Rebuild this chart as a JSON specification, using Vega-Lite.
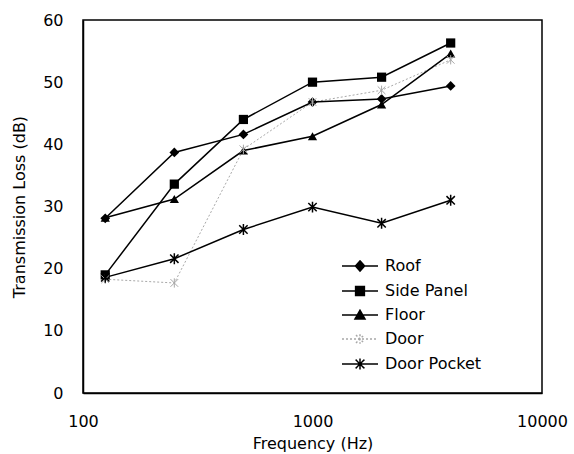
{
  "$schema": "https://vega.github.io/schema/vega-lite/v6.json",
  "width": 459,
  "height": 373,
  "autosize": {"type": "none"},
  "padding": {"left": 83, "top": 20, "right": 32, "bottom": 61},
  "background": "white",
  "config": {
    "font": "DejaVu Sans",
    "view": {"stroke": "black", "strokeWidth": 1.5},
    "axis": {
      "ticks": false,
      "grid": false,
      "domainColor": "black",
      "domainWidth": 1.5,
      "labelColor": "black",
      "titleColor": "black",
      "labelFontSize": 16,
      "titleFontSize": 16,
      "titleFontWeight": "normal",
      "labelFont": "DejaVu Sans",
      "titleFont": "DejaVu Sans"
    },
    "legend": {
      "orient": "none",
      "padding": 0,
      "labelFontSize": 16,
      "labelFont": "DejaVu Sans",
      "labelColor": "black",
      "symbolSize": 64,
      "symbolStrokeWidth": 1.5
    }
  },
  "data": {
    "values": [
      {"series": "Roof", "freq": 125, "TL": 28.1},
      {"series": "Roof", "freq": 250, "TL": 38.7},
      {"series": "Roof", "freq": 500, "TL": 41.6},
      {"series": "Roof", "freq": 1000, "TL": 46.8},
      {"series": "Roof", "freq": 2000, "TL": 47.3},
      {"series": "Roof", "freq": 4000, "TL": 49.4},
      {"series": "Side Panel", "freq": 125, "TL": 19.0},
      {"series": "Side Panel", "freq": 250, "TL": 33.6},
      {"series": "Side Panel", "freq": 500, "TL": 44.0},
      {"series": "Side Panel", "freq": 1000, "TL": 50.0},
      {"series": "Side Panel", "freq": 2000, "TL": 50.8},
      {"series": "Side Panel", "freq": 4000, "TL": 56.3},
      {"series": "Floor", "freq": 125, "TL": 28.2},
      {"series": "Floor", "freq": 250, "TL": 31.2},
      {"series": "Floor", "freq": 500, "TL": 39.0},
      {"series": "Floor", "freq": 1000, "TL": 41.3},
      {"series": "Floor", "freq": 2000, "TL": 46.4},
      {"series": "Floor", "freq": 4000, "TL": 54.6},
      {"series": "Door", "freq": 125, "TL": 18.3},
      {"series": "Door", "freq": 250, "TL": 17.7},
      {"series": "Door", "freq": 500, "TL": 39.2},
      {"series": "Door", "freq": 1000, "TL": 46.8},
      {"series": "Door", "freq": 2000, "TL": 48.7},
      {"series": "Door", "freq": 4000, "TL": 53.6},
      {"series": "Door Pocket", "freq": 125, "TL": 18.6},
      {"series": "Door Pocket", "freq": 250, "TL": 21.6},
      {"series": "Door Pocket", "freq": 500, "TL": 26.3},
      {"series": "Door Pocket", "freq": 1000, "TL": 29.9},
      {"series": "Door Pocket", "freq": 2000, "TL": 27.3},
      {"series": "Door Pocket", "freq": 4000, "TL": 31.0}
    ]
  },
  "encoding": {
    "x": {
      "field": "freq",
      "type": "quantitative",
      "scale": {"type": "log", "domain": [100, 10000], "nice": false},
      "axis": {
        "values": [100, 1000, 10000],
        "format": "d",
        "labelPadding": 20,
        "labelFlush": false,
        "labelOverlap": false,
        "title": "Frequency (Hz)",
        "titlePadding": 6
      }
    },
    "y": {
      "field": "TL",
      "type": "quantitative",
      "scale": {"domain": [0, 60], "nice": false, "zero": true},
      "axis": {
        "values": [0, 10, 20, 30, 40, 50, 60],
        "labelPadding": 20,
        "title": "Transmission Loss (dB)",
        "titlePadding": 15
      }
    }
  },
  "layer": [
    {
      "transform": [{"filter": "datum.series === 'Door'"}],
      "mark": {"type": "line", "color": "#a8a8a8", "strokeWidth": 1, "strokeDash": [2, 2]},
      "encoding": {}
    },
    {
      "transform": [{"filter": "datum.series !== 'Door'"}],
      "mark": {"type": "line", "color": "black", "strokeWidth": 1.5},
      "encoding": {"detail": {"field": "series", "type": "nominal"}}
    },
    {
      "transform": [{"filter": "datum.series === 'Roof'"}],
      "mark": {"type": "point", "shape": "diamond", "filled": true, "color": "black", "size": 95, "opacity": 1}
    },
    {
      "transform": [{"filter": "datum.series === 'Side Panel'"}],
      "mark": {"type": "point", "shape": "square", "filled": true, "color": "black", "size": 85, "opacity": 1}
    },
    {
      "transform": [{"filter": "datum.series === 'Floor'"}],
      "mark": {"type": "point", "shape": "triangle-up", "filled": true, "color": "black", "size": 85, "opacity": 1}
    },
    {
      "transform": [{"filter": "datum.series === 'Door'"}],
      "mark": {"type": "point", "shape": "M-1,-1L1,1M-1,1L1,-1M0,-1.2L0,1.2", "filled": false, "color": "#a8a8a8", "strokeWidth": 1, "size": 60, "opacity": 1}
    },
    {
      "transform": [{"filter": "datum.series === 'Door Pocket'"}],
      "mark": {"type": "point", "shape": "M-1,-1L1,1M-1,1L1,-1M0,-1.3L0,1.3", "filled": false, "color": "black", "strokeWidth": 1.5, "size": 70, "opacity": 1}
    },
    {
      "transform": [{"filter": "datum.TL < 0"}],
      "mark": {"type": "point", "filled": true, "opacity": 1, "strokeWidth": 1.5},
      "encoding": {
        "shape": {
          "field": "series",
          "type": "nominal",
          "scale": {
            "domain": ["Roof", "Side Panel", "Floor", "Door", "Door Pocket"],
            "range": [
              "M-4.5,0L4.5,0M0,-1.3L1.15,0L0,1.3L-1.15,0Z",
              "M-4.5,0L4.5,0M-1.1,-1.1L1.1,-1.1L1.1,1.1L-1.1,1.1Z",
              "M-4.5,0L4.5,0M0,-1.2L1.25,1L-1.25,1Z",
              "M-4.5,0L4.5,0M-1,-1L1,1M-1,1L1,-1M0,-1.2L0,1.2",
              "M-4.5,0L4.5,0M-1.1,-1.1L1.1,1.1M-1.1,1.1L1.1,-1.1M0,-1.35L0,1.35"
            ]
          },
          "legend": {
            "orient": "none",
            "legendX": 257,
            "legendY": 238,
            "title": null,
            "padding": 0,
            "symbolOffset": 12,
            "labelOffset": 17,
            "rowPadding": 8,
            "labelFontSize": 16,
            "symbolSize": 64,
            "symbolStrokeWidth": 1.5
          }
        },
        "fill": {
          "field": "series",
          "type": "nominal",
          "scale": {
            "domain": ["Roof", "Side Panel", "Floor", "Door", "Door Pocket"],
            "range": ["#000000", "#000000", "#000000", "#a8a8a8", "#000000"]
          }
        },
        "stroke": {
          "field": "series",
          "type": "nominal",
          "scale": {
            "domain": ["Roof", "Side Panel", "Floor", "Door", "Door Pocket"],
            "range": ["#000000", "#000000", "#000000", "#a8a8a8", "#000000"]
          }
        },
        "strokeDash": {
          "field": "series",
          "type": "nominal",
          "scale": {
            "domain": ["Roof", "Side Panel", "Floor", "Door", "Door Pocket"],
            "range": [[1, 0], [1, 0], [1, 0], [2, 2], [1, 0]]
          }
        }
      }
    }
  ]
}
